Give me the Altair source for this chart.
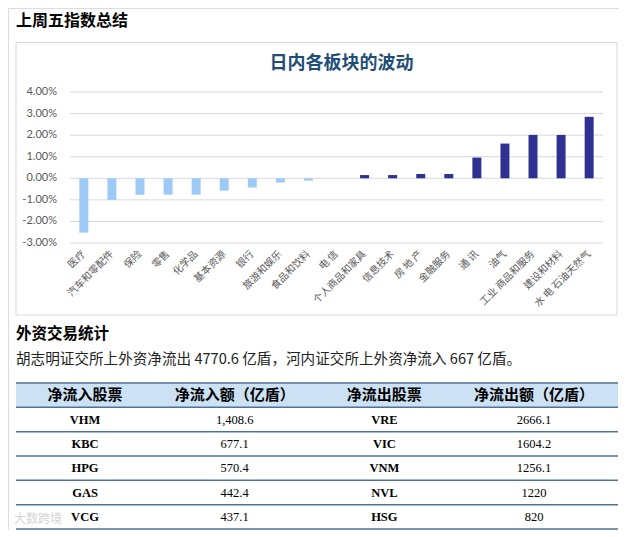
import altair as alt
import pandas as pd

# ---------------- data ----------------
sectors = ["医疗", "汽车和零配件", "保险", "零售", "化学品", "基本资源", "银行",
           "旅游和娱乐", "食品和饮料", "电 信", "个人商品和家具", "信息技术", "房 地 产",
           "金融服务", "通 讯", "油气", "工业 商品和服务", "建设和材料", "水 电 石油天然气"]
changes = [-2.52, -1.00, -0.76, -0.76, -0.76, -0.57, -0.43, -0.20, -0.11, 0.0,
           0.15, 0.15, 0.20, 0.20, 0.96, 1.61, 2.01, 2.01, 2.85]

y_ticks = [4, 3, 2, 1, 0, -1, -2, -3]
y_tick_labels = ["4.00%", "3.00%", "2.00%", "1.00%", "0.00%", "-1.00%", "-2.00%", "-3.00%"]

table_headers = ["净流入股票", "净流入额（亿盾）", "净流出股票", "净流出额（亿盾）"]
inflow_tickers = ["VHM", "KBC", "HPG", "GAS", "VCG"]
inflow_values = ["1,408.6", "677.1", "570.4", "442.4", "437.1"]
outflow_tickers = ["VRE", "VIC", "VNM", "NVL", "HSG"]
outflow_values = ["2666.1", "1604.2", "1256.1", "1220", "820"]

heading1 = "上周五指数总结"
chart_title = "日内各板块的波动"
heading2 = "外资交易统计"
sentence = "胡志明证交所上外资净流出 4770.6 亿盾，河内证交所上外资净流入 667 亿盾。"
watermark = "大数跨境"

CJK = "Noto Sans CJK SC"
one = pd.DataFrame({"k": [0]})

# ---------------- static pieces ----------------
box = alt.Chart(one).mark_rect(fill="white", stroke="#D9D9D9", strokeWidth=1).encode(
    x=alt.value(8), x2=alt.value(609), y=alt.value(34.5), y2=alt.value(307))

def label(txt, x, y, size, weight="normal", color="#000000", align="left", font=CJK):
    return alt.Chart(one).mark_text(text=txt, align=align, baseline="middle",
                                    font=font, fontSize=size, fontWeight=weight,
                                    color=color).encode(x=alt.value(x), y=alt.value(y))

h1 = label(heading1, 8, 12.5, 16, "bold")
ttl = label(chart_title, 333.5, 55.5, 18, "bold", "#1F4E79", "center")
h2 = label(heading2, 8, 326, 15.5, "bold")
sent = label(sentence, 8, 352, 14.6, "normal", "#222222")
wm = label(watermark, 6, 511, 12, "normal", "#d4d4d4")

static = alt.layer(box, h1, ttl, h2, sent)

# ---------------- bar chart ----------------
df_bars = pd.DataFrame({"sector": sectors, "v": changes})
df_ticks = pd.DataFrame({"t": y_ticks, "lab": y_tick_labels})

x_scale = alt.Scale(type="band", domain=sectors, range=[61.8, 595.2],
                    paddingInner=0.68, paddingOuter=0.34)
y_scale = alt.Scale(domain=[-3, 4], range=[235, 84], nice=False, zero=False)

grid = alt.Chart(df_ticks).mark_rule(color="#D9D9D9", strokeWidth=1).encode(
    y=alt.Y("t:Q", scale=y_scale, axis=None),
    x=alt.value(62), x2=alt.value(595))

ylabels = alt.Chart(df_ticks).mark_text(align="right", baseline="middle", font="Lato",
                                         fontSize=11, color="#595959").encode(
    y=alt.Y("t:Q", scale=y_scale, axis=None),
    x=alt.value(49), text="lab:N")

bars = alt.Chart(df_bars).mark_bar().encode(
    x=alt.X("sector:N", scale=x_scale, sort=sectors, axis=None),
    y=alt.Y("v:Q", scale=y_scale, axis=None),
    color=alt.condition(alt.datum.v < 0, alt.value("#9DCAF4"), alt.value("#2E3192")))

xlabels = alt.Chart(df_bars).mark_text(align="right", baseline="middle", angle=315,
                                       font=CJK, fontSize=10, color="#595959").encode(
    x=alt.X("sector:N", scale=x_scale, sort=sectors, axis=None, bandPosition=0.5),
    y=alt.value(244.5), text="sector:N")

bar_group = alt.layer(grid, ylabels, bars, xlabels)

# ---------------- table ----------------
cols = ["c1", "c2", "c3", "c4"]
rows = []
for c, h in zip(cols, table_headers):
    rows.append({"row": 0, "col": c, "txt": h, "kind": "head"})
for i in range(5):
    rows.append({"row": i + 1, "col": "c1", "txt": inflow_tickers[i], "kind": "tick"})
    rows.append({"row": i + 1, "col": "c2", "txt": inflow_values[i], "kind": "num"})
    rows.append({"row": i + 1, "col": "c3", "txt": outflow_tickers[i], "kind": "tick"})
    rows.append({"row": i + 1, "col": "c4", "txt": outflow_values[i], "kind": "num"})
df_tab = pd.DataFrame(rows)
df_rows = pd.DataFrame({"row": list(range(6))})

row_scale = alt.Scale(type="band", domain=list(range(6)), range=[375, 521],
                      paddingInner=0, paddingOuter=0)
col_scale = alt.Scale(type="point", domain=cols, range=[77, 526], padding=0)

head_bg = alt.Chart(df_rows).transform_filter(alt.datum.row == 0).mark_rect(
    fill="#CCE2F4").encode(
    y=alt.Y("row:O", scale=row_scale, axis=None),
    x=alt.value(8), x2=alt.value(610))

LINE = "#4F7397"
row_lines = alt.Chart(df_rows).mark_rule(color=LINE, strokeWidth=1.5).encode(
    y=alt.Y("row:O", scale=row_scale, axis=None, bandPosition=0),
    x=alt.value(8), x2=alt.value(610))
bottom_line = alt.Chart(df_rows).transform_filter(alt.datum.row == 5).mark_rule(
    color=LINE, strokeWidth=1.5).encode(
    y=alt.Y("row:O", scale=row_scale, axis=None, bandPosition=1),
    x=alt.value(8), x2=alt.value(610))

def tab_text(kind, font, size, weight):
    return alt.Chart(df_tab).transform_filter(alt.datum.kind == kind).mark_text(
        align="center", baseline="middle", font=font, fontSize=size,
        fontWeight=weight, color="#000000").encode(
        x=alt.X("col:N", scale=col_scale, axis=None),
        y=alt.Y("row:O", scale=row_scale, axis=None, bandPosition=0.5),
        text="txt:N")

t_head = tab_text("head", CJK, 15, "bold")
t_tick = tab_text("tick", "Liberation Serif", 12.5, "bold")
t_num = tab_text("num", "Liberation Serif", 12.5, "normal")

table_group = alt.layer(head_bg, row_lines, bottom_line, t_head, t_tick, t_num, wm)

chart = alt.layer(static, bar_group, table_group).resolve_scale(
    x="independent", y="independent"
).properties(
    width=611, height=522, padding=0,
    autosize=alt.AutoSizeParams(type="none")
).configure_view(stroke=None).configure(background="white")

chart.save("out.html", embed_options={"renderer": "svg", "actions": False})
